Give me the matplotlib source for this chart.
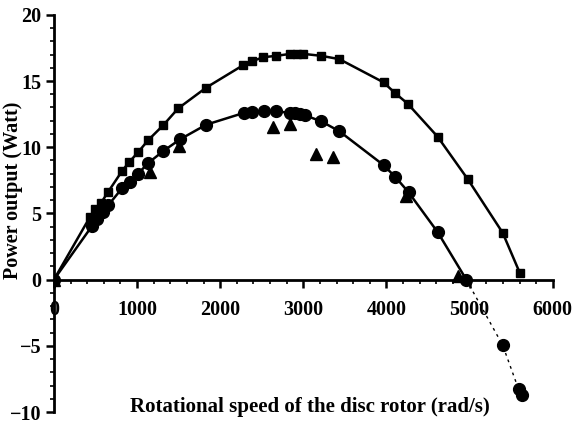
import matplotlib.pyplot as plt
import numpy as np
from matplotlib.ticker import MultipleLocator

# rotational speed (rad/s) and power output (W)
sq_speed = [0, 434, 494, 566, 651, 819, 904, 1012, 1133, 1313, 1494, 1831, 2277, 2386, 2518,
            2675, 2843, 2928, 3000, 3217, 3434, 3964, 4108, 4253, 4614, 4976, 5398, 5602]
sq_power = [0, 4.74, 5.34, 5.79, 6.62, 8.20, 8.87, 9.62, 10.53, 11.65, 12.93, 14.5, 16.2, 16.5, 16.8,
            16.9, 17.05, 17.07, 17.05, 16.9, 16.65, 14.9, 14.06, 13.3, 10.8, 7.6, 3.53, 0.53]

ci_speed = [0, 458, 518, 590, 651, 819, 916, 1012, 1133, 1313, 1518, 1831, 2289, 2386, 2530,
            2675, 2843, 2904, 2964, 3024, 3217, 3434, 3964, 4108, 4265, 4614, 4960]
ci_power = [0, 4.05, 4.6, 5.1, 5.6, 6.9, 7.4, 8.0, 8.8, 9.7, 10.6, 11.7, 12.6, 12.65, 12.7,
            12.7, 12.6, 12.55, 12.5, 12.4, 11.95, 11.2, 8.65, 7.74, 6.6, 3.6, 0.0]

tri_speed = [0, 1157, 1506, 2639, 2843, 3157, 3361, 4229, 4855]
tri_power = [0, 8.1, 10.1, 11.5, 11.73, 9.47, 9.25, 6.3, 0.3]

neg_speed = [4960, 5398, 5590, 5627]
neg_power = [0.0, -4.96, -8.3, -8.7]

plt.rcParams['font.family'] = ['Liberation Serif', 'DejaVu Serif']
plt.rcParams['font.weight'] = 'bold'

fig = plt.figure(figsize=(5.74, 4.23), dpi=100)
ax = fig.add_axes([0.094, 0.026, 0.869, 0.939])

ax.plot(sq_speed, sq_power, color='black', lw=1.8, marker='s', ms=6, zorder=3)
ax.plot(ci_speed, ci_power, color='black', lw=1.8, marker='o', ms=8.5, zorder=3)
ax.plot(neg_speed, neg_power, color='black', lw=1, ls=(0, (2, 3)), marker='o', ms=8.5, markevery=[1, 2, 3])
ax.plot(tri_speed, tri_power, color='black', ls='none', marker='^', ms=9, zorder=4)

ax.set_xlim(0, 6000)
ax.set_ylim(-10, 20)
ax.spines['top'].set_visible(False)
ax.spines['right'].set_visible(False)
ax.spines['bottom'].set_position(('data', 0))
ax.spines['left'].set_linewidth(2)
ax.spines['bottom'].set_linewidth(2)

ax.xaxis.set_minor_locator(MultipleLocator(200))
ax.yaxis.set_minor_locator(MultipleLocator(1))
ax.tick_params(which='major', direction='out', length=6, width=1.8, labelsize=14.5, pad=9)
ax.tick_params(which='minor', direction='out', length=3, width=1.2)
ax.set_xticks(range(0, 7000, 1000))
ax.set_xticklabels([str(v) for v in range(0, 7000, 1000)], fontweight='bold')
ax.set_yticks(range(-10, 25, 5))
ax.set_yticklabels(['\u221210', '\u22125', '0', '5', '10', '15', '20'], fontweight='bold')
ax.tick_params(axis='y', pad=3)

ax.text(3084, -9.6, 'Rotational speed of the disc rotor (rad/s)', ha='center', va='center',
        fontsize=15, fontweight='bold')
fig.text(0.022, 0.55, 'Power output (Watt)', rotation=90, ha='center', va='center',
         fontsize=14.5, fontweight='bold')

fig.savefig('out.png', dpi=100)
